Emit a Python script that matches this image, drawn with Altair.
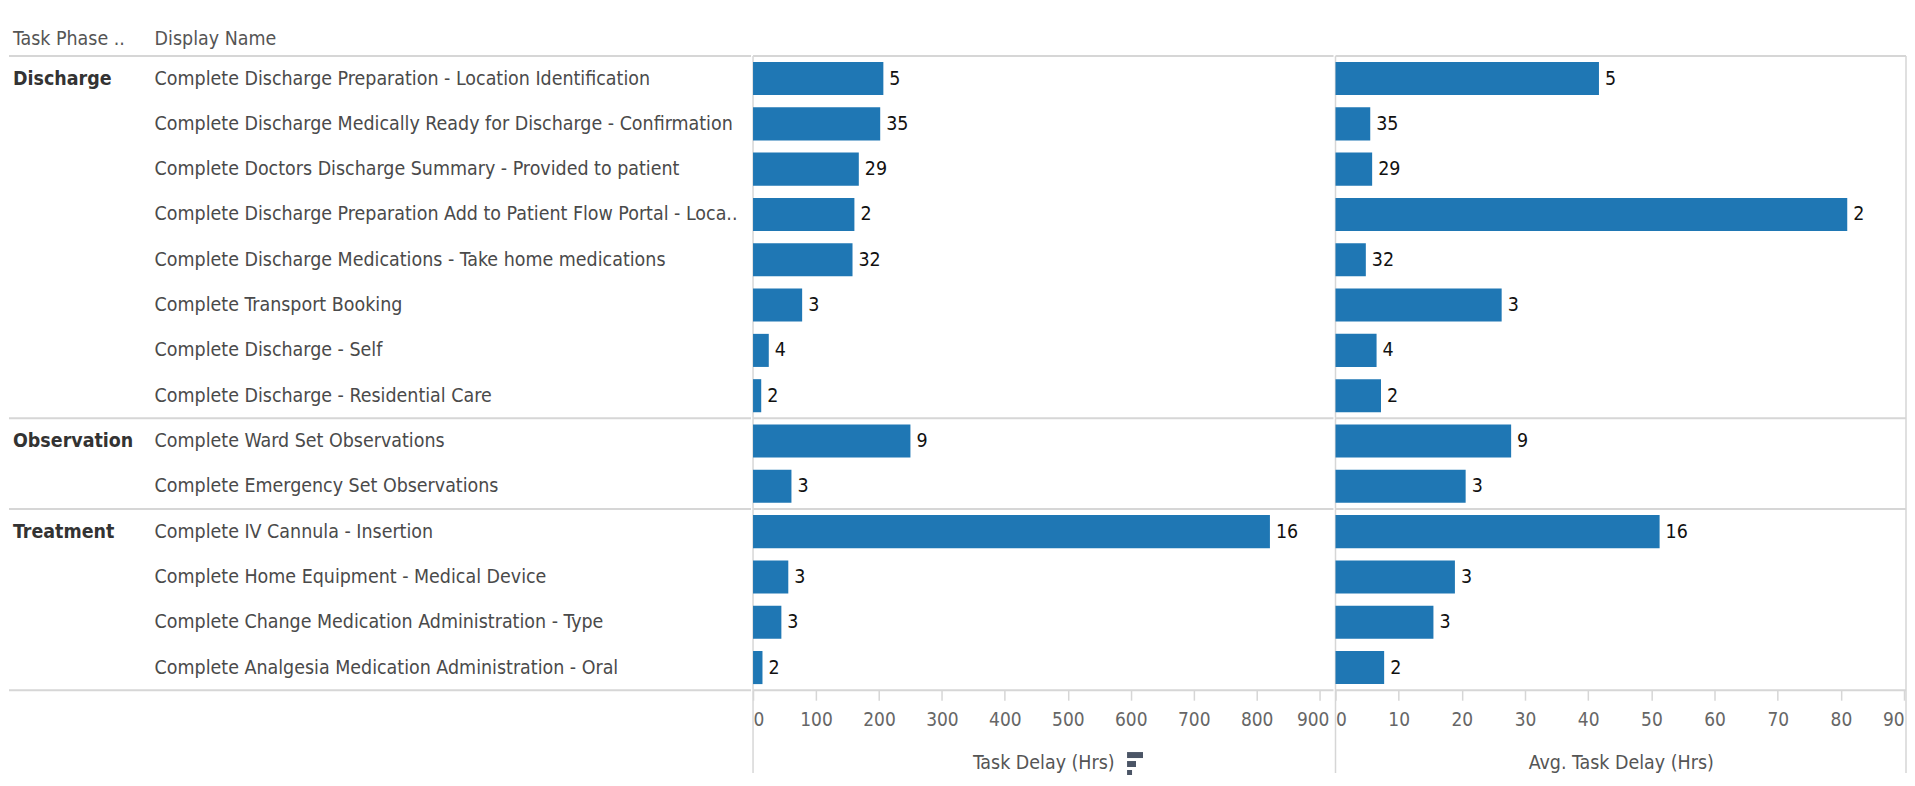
import altair as alt
import pandas as pd

# ---------------- data ----------------
phases = ["Discharge"] * 8 + ["Observation"] * 2 + ["Treatment"] * 4
names = [
    "Complete Discharge Preparation - Location Identification",
    "Complete Discharge Medically Ready for Discharge - Confirmation",
    "Complete Doctors Discharge Summary - Provided to patient",
    "Complete Discharge Preparation Add to Patient Flow Portal - Loca..",
    "Complete Discharge Medications - Take home medications",
    "Complete Transport Booking",
    "Complete Discharge - Self",
    "Complete Discharge - Residential Care",
    "Complete Ward Set Observations",
    "Complete Emergency Set Observations",
    "Complete IV Cannula - Insertion",
    "Complete Home Equipment - Medical Device",
    "Complete Change Medication Administration - Type",
    "Complete Analgesia Medication Administration - Oral",
]
counts = [5, 35, 29, 2, 32, 3, 4, 2, 9, 3, 16, 3, 3, 2]
task_delay = [207, 202, 168, 161, 158, 78, 25, 13, 250, 61, 821, 56, 45, 15]
avg_delay = [41.7, 5.5, 5.8, 81.0, 4.8, 26.3, 6.5, 7.2, 27.8, 20.6, 51.3, 18.9, 15.5, 7.7]
left_ticks = [0, 100, 200, 300, 400, 500, 600, 700, 800, 900]
right_ticks = [0, 10, 20, 30, 40, 50, 60, 70, 80, 90]

df = pd.DataFrame({
    "phase": phases, "name": names, "count": counts,
    "delay": task_delay, "avg": avg_delay,
})
first_rows = df.drop_duplicates("phase")[["phase", "name"]]

# ---------------- style ----------------
FONT = "DejaVu Sans Condensed, Liberation Sans Narrow, sans-serif"
FS = 19.5
FS_TICK = 19
BLUE = "#1f77b4"
LINE = "#d6d6d6"
TOP, BOTTOM, LOW = 47, 683, 766
W_TEXT, W_LEFT, W_RIGHT = 744, 582, 572
PI = 0.27

yscale = alt.Scale(domain=names, range=[TOP, BOTTOM], paddingInner=PI, paddingOuter=PI / 2)
step = (BOTTOM - TOP) / len(names)
sep_off = -PI * step / 2


def ysc():
    return alt.Y("name:N", scale=yscale, axis=None, sort=names)


def separators(width):
    seps = alt.Chart(first_rows).mark_rule(color=LINE, strokeWidth=2, yOffset=sep_off).encode(
        y=alt.Y("name:N", scale=yscale, axis=None, sort=names, bandPosition=0),
        x=alt.value(0), x2=alt.value(width),
    )
    bottom = alt.Chart(first_rows.head(1)).mark_rule(color=LINE, strokeWidth=2).encode(
        y=alt.value(BOTTOM), x=alt.value(0), x2=alt.value(width),
    )
    return seps + bottom


def vline(xpos, y2=LOW):
    return alt.Chart(first_rows.head(1)).mark_rule(color=LINE, strokeWidth=1.5).encode(
        x=alt.value(xpos), y=alt.value(TOP), y2=alt.value(y2),
    )


# ---------------- row headers ----------------
hdr1 = alt.Chart(pd.DataFrame({"h": ["Task Phase .."]})).mark_text(
    align="left", baseline="middle", font=FONT, fontSize=FS, color="#555555"
).encode(x=alt.value(4), y=alt.value(30), text="h:N")
hdr2 = alt.Chart(pd.DataFrame({"h": ["Display Name"]})).mark_text(
    align="left", baseline="middle", font=FONT, fontSize=FS, color="#555555"
).encode(x=alt.value(146), y=alt.value(30), text="h:N")

name_text = alt.Chart(df).mark_text(
    align="left", baseline="middle", font=FONT, fontSize=FS, color="#4a4a4a"
).encode(y=ysc(), x=alt.value(146), text="name:N")

phase_text = alt.Chart(first_rows).mark_text(
    align="left", baseline="middle", font=FONT, fontSize=FS, fontWeight="bold", color="#333333"
).encode(y=ysc(), x=alt.value(4), text="phase:N")

text_panel = alt.layer(
    separators(W_TEXT), hdr1, hdr2, name_text, phase_text
).properties(width=W_TEXT, height=BOTTOM)


# ---------------- bar panels ----------------
def axis(title, values, flush, offset):
    return alt.Axis(
        title=title, values=values, grid=False, domain=False,
        ticks=True, tickColor=LINE, tickSize=10, tickWidth=1.5,
        labelFont=FONT, labelFontSize=FS_TICK, labelColor="#666666", labelPadding=10,
        labelFlush=flush, labelFlushOffset=0, labelOffset=offset,
        titleFont=FONT, titleFontSize=FS, titleFontWeight="normal", titleColor="#555555",
        titlePadding=24,
    )


def bar_panel(field, domain, title, values, flush, offset):
    xenc = alt.X(f"{field}:Q", scale=alt.Scale(domain=domain, nice=False, zero=True),
                 axis=axis(title, values, flush, offset))
    bars = alt.Chart(df).mark_bar(color=BLUE).encode(x=xenc, y=ysc())
    labels = alt.Chart(df).mark_text(
        align="left", baseline="middle", dx=6, font=FONT, fontSize=FS, color="#111111"
    ).encode(x=alt.X(f"{field}:Q"), y=ysc(), text="count:Q")
    return bars, labels


left_offset = {"condition": {"test": "datum.value === 900", "value": -7}, "value": 0}
lbars, llabels = bar_panel("delay", [0, 922], "Task Delay (Hrs)", left_ticks, True, left_offset)
rbars, rlabels = bar_panel("avg", [0, 90.3], "Avg. Task Delay (Hrs)", right_ticks, 6, 0)

icon_df = pd.DataFrame({
    "x": [375, 375, 375], "x2": [391, 384, 380],
    "y": [745, 754, 763], "y2": [751, 760, 768],
})
sort_icon = alt.Chart(icon_df).mark_rect(color="#4b5566").encode(
    x=alt.X("x:Q", scale=None), x2="x2:Q",
    y=alt.Y("y:Q", scale=None), y2="y2:Q",
)

left_panel = alt.layer(
    separators(W_LEFT), vline(0), lbars, llabels, sort_icon
).properties(width=W_LEFT, height=BOTTOM)

right_panel = alt.layer(
    separators(W_RIGHT), vline(0), vline(W_RIGHT), rbars, rlabels
).properties(width=W_RIGHT, height=BOTTOM)

chart = alt.hconcat(text_panel, left_panel, right_panel, spacing=0).resolve_scale(
    x="independent", y="independent"
).properties(padding=0, background="white").configure_view(stroke=None)

chart.save("out.html", embed_options={"renderer": "svg", "actions": False})
